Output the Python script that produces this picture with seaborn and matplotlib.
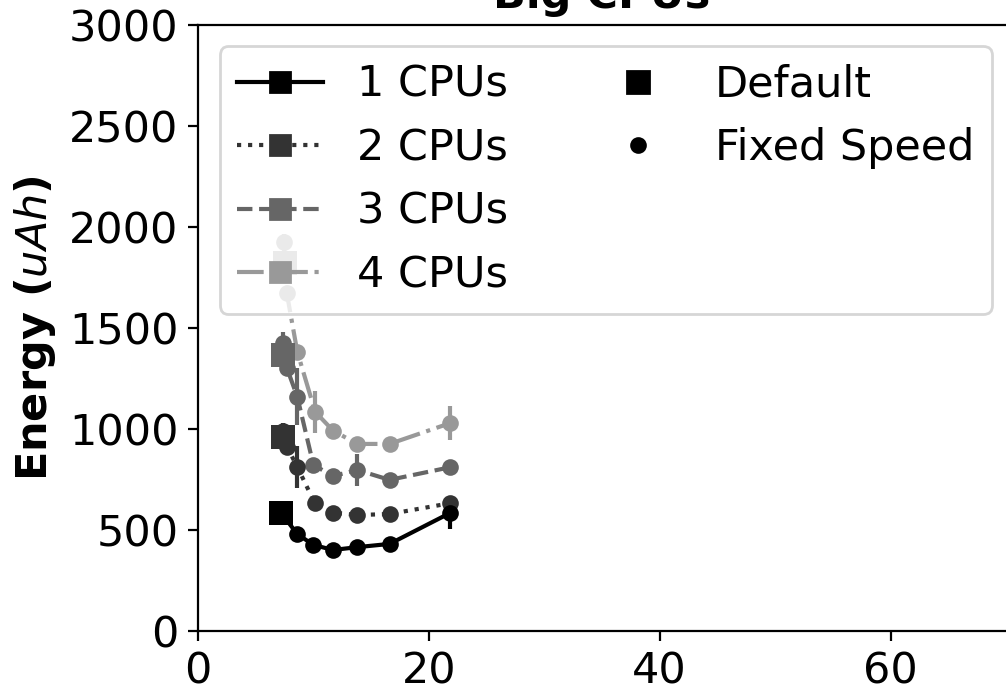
import matplotlib.pyplot as plt
import pandas as pd
import seaborn as sns
from matplotlib.lines import Line2D

sns.set_style("ticks", {
    "axes.edgecolor": "black",
    "axes.labelcolor": "black",
    "text.color": "black",
    "xtick.color": "black",
    "ytick.color": "black",
    "lines.solid_capstyle": "projecting",
})
plt.rcParams["font.family"] = ["DejaVu Sans"]

cpu_labels = ["1 CPUs", "2 CPUs", "3 CPUs", "4 CPUs"]
colors = ["#000000", "#333333", "#666666", "#999999"]
line_styles = ["-", ":", "--", "-."]

# default governor run, one point per cpu count
default_time = [7.2, 7.4, 7.4, 7.5]
default_energy = [585, 960, 1366, 1824]
default_err = [20, 70, 50, 40]

# fixed speed runs
fixed_time = [
    [8.6, 10.0, 11.7, 13.8, 16.6, 21.8],
    [7.4, 7.7, 8.6, 10.1, 11.7, 13.8, 16.6, 21.8],
    [7.4, 7.7, 8.6, 10.0, 11.7, 13.8, 16.6, 21.8],
    [7.45, 7.7, 8.6, 10.15, 11.7, 13.8, 16.6, 21.8],
]
fixed_energy = [
    [480, 426, 401, 415, 431, 583],
    [990, 912, 813, 635, 586, 574, 579, 632],
    [1425, 1302, 1160, 822, 767, 797, 748, 810],
    [1927, 1671, 1383, 1085, 992, 926, 926, 1028],
]
fixed_err = [
    [15, 10, 10, 15, 15, 80],
    [30, 20, 105, 20, 15, 15, 15, 25],
    [55, 30, 140, 20, 20, 80, 20, 20],
    [40, 30, 30, 105, 20, 20, 20, 85],
]

x_ticks = [0, 20, 40, 60]
y_ticks = [0, 500, 1000, 1500, 2000, 2500, 3000]

FS = 15.5

fig = plt.figure(figsize=(5.03, 3.43), dpi=200)
ax = fig.add_axes([0.1968, 0.0802, 0.8032, 0.8834])

for i in reversed(range(len(cpu_labels))):
    df = pd.DataFrame({
        "time": [default_time[i]] + fixed_time[i],
        "energy": [default_energy[i]] + fixed_energy[i],
    })
    sns.lineplot(data=df, x="time", y="energy", sort=True, estimator=None,
                 color=colors[i], linestyle=line_styles[i], linewidth=1.5, ax=ax)
    ax.errorbar(fixed_time[i], fixed_energy[i], yerr=fixed_err[i], fmt="none",
                ecolor=colors[i], elinewidth=1.5)
    ax.errorbar([default_time[i]], [default_energy[i]], yerr=[default_err[i]], fmt="none",
                ecolor=colors[i], elinewidth=1.5)
    sns.scatterplot(x=fixed_time[i], y=fixed_energy[i], color=colors[i], marker="o",
                    s=36, linewidth=0, zorder=3, ax=ax)
    sns.scatterplot(x=[default_time[i]], y=[default_energy[i]], color=colors[i], marker="s",
                    s=75, linewidth=0, zorder=4, ax=ax)

handles = [
    Line2D([], [], color=c, linestyle=ls, linewidth=1.5, marker="s", markersize=7)
    for c, ls in zip(colors, line_styles)
]
handles += [
    Line2D([], [], color="black", linestyle="none", marker="s", markersize=8),
    Line2D([], [], color="black", linestyle="none", marker="o", markersize=5),
    Line2D([], [], linestyle="none"),
    Line2D([], [], linestyle="none"),
]
labels = cpu_labels + ["Default", "Fixed Speed", "", ""]
ax.legend(handles, labels, loc="upper left", ncol=2, fontsize=FS)

ax.set_xlim(0, 70)
ax.set_ylim(0, 3000)
ax.set_xticks(x_ticks)
ax.set_yticks(y_ticks)
ax.tick_params(labelsize=FS)
ax.spines["right"].set_visible(False)
ax.set_xlabel("")
ax.set_ylabel(r"Energy ($\it{uAh}$)", fontsize=FS, fontweight="bold")
ax.set_title("Big CPUs", fontsize=FS, fontweight="bold")

fig.savefig("out.png", dpi=200)
